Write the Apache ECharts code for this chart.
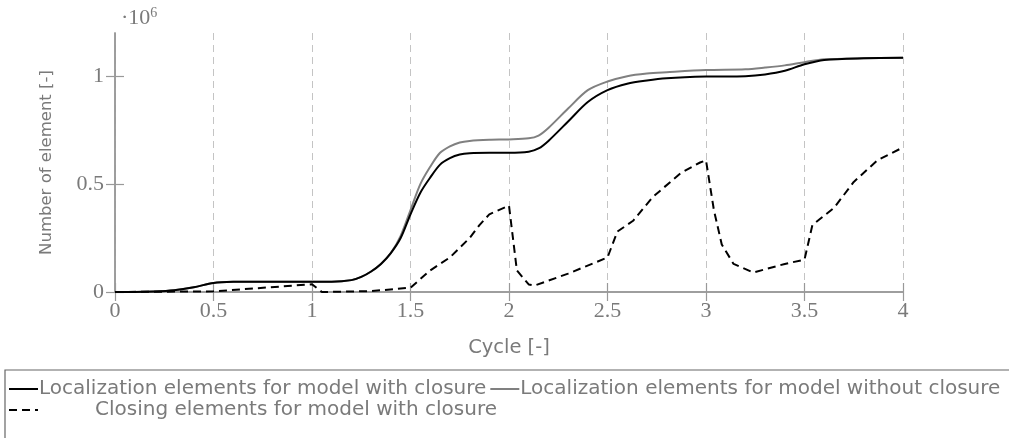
<!DOCTYPE html>
<html>
<head>
<meta charset="utf-8">
<script src="https://cdn.jsdelivr.net/npm/echarts@6/dist/echarts.min.js"></script>
<style>
  html, body { margin: 0; padding: 0; background: #fff; }
  #chart { width: 1009px; height: 438px; }
</style>
</head>
<body>
<div id="chart"></div>
<script>
// cycles for the two localization curves
const xSolid = [0, 0.1, 0.2, 0.3, 0.4, 0.5, 0.6, 0.8, 1.0, 1.1, 1.2, 1.25, 1.3, 1.35, 1.4, 1.45, 1.5, 1.55, 1.6, 1.65, 1.7, 1.75, 1.8, 1.9, 2.0, 2.1, 2.15, 2.2, 2.3, 2.4, 2.5, 2.6, 2.7, 2.8, 3.0, 3.2, 3.3, 3.4, 3.5, 3.6, 3.8, 4.0];
// number of elements, in millions
const withClosure = [0, 0, 0.002, 0.008, 0.022, 0.042, 0.047, 0.048, 0.048, 0.048, 0.055, 0.07, 0.095, 0.13, 0.18, 0.25, 0.36, 0.46, 0.53, 0.59, 0.62, 0.637, 0.643, 0.645, 0.645, 0.65, 0.665, 0.7, 0.79, 0.88, 0.935, 0.965, 0.98, 0.99, 0.998, 1.0, 1.008, 1.025, 1.055, 1.075, 1.083, 1.085];
const withoutClosure = [0, 0, 0.002, 0.008, 0.022, 0.042, 0.047, 0.048, 0.048, 0.048, 0.055, 0.07, 0.095, 0.13, 0.18, 0.26, 0.38, 0.5, 0.58, 0.645, 0.675, 0.693, 0.7, 0.705, 0.707, 0.712, 0.725, 0.76, 0.85, 0.935, 0.975, 1.0, 1.012, 1.018, 1.028, 1.032, 1.04, 1.05, 1.065, 1.078, 1.083, 1.085];

// closing elements curve
const xDash = [0, 0.5, 1.0, 1.05, 1.3, 1.5, 1.6, 1.7, 1.8, 1.85, 1.9, 2.0, 2.04, 2.1, 2.13, 2.3, 2.5, 2.55, 2.63, 2.73, 2.87, 2.97, 3.0, 3.04, 3.08, 3.14, 3.24, 3.4, 3.5, 3.54, 3.65, 3.75, 3.87, 4.0];
const closing = [0, 0.003, 0.036, 0, 0.004, 0.02, 0.1, 0.16, 0.25, 0.31, 0.36, 0.4, 0.1, 0.035, 0.03, 0.085, 0.16, 0.28, 0.33, 0.44, 0.55, 0.6, 0.61, 0.38, 0.22, 0.13, 0.09, 0.13, 0.15, 0.31, 0.39, 0.51, 0.61, 0.67];

const xTicks = [0, 0.5, 1, 1.5, 2, 2.5, 3, 3.5, 4];
const yTicks = [0, 0.5, 1];

const names = [
  'Localization elements for model with closure',
  'Localization elements for model without closure',
  'Closing elements for model with closure'
];

const toPairs = (xs, ys) => xs.map((x, i) => [x, ys[i] * 1e6]);

const grey = '#7a7a7a';
const serif = '"Liberation Serif", "DejaVu Serif", serif';
const sans = '"DejaVu Sans", sans-serif';

const chart = echarts.init(document.getElementById('chart'));

const yTickValues = yTicks.map(v => v * 1e6);

const frameLine = { show: true, lineStyle: { color: '#999', width: 1.5 } };
const frameTick = { show: true, inside: true, length: 9, lineStyle: { color: '#999', width: 1.2 } };

const option = {
  animation: false,
  grid: { left: 115, right: 106, top: 33, bottom: 146 },
  graphic: [
    {
      type: 'rect',
      shape: { x: 5, y: 370, width: 1100, height: 200 },
      style: { fill: 'none', stroke: '#666', lineWidth: 1.2 },
      silent: true
    },
    {
      type: 'text',
      left: 121,
      top: 6,
      style: {
        text: '·10{s|6}',
        font: '22px ' + serif,
        fill: grey,
        rich: { s: { fontSize: 14, fontFamily: serif, fill: grey, verticalAlign: 'top', padding: [0, 0, 10, 0] } }
      }
    }
  ],
  legend: [
    {
      data: [names[0], names[1]],
      left: 8,
      top: 379,
      padding: 0,
      itemGap: 3,
      itemWidth: 29,
      itemHeight: 14,
      itemStyle: { opacity: 0 },
      textStyle: { color: grey, fontSize: 20, fontFamily: sans, padding: [0, 0, 0, -4] }
    },
    {
      data: [names[2]],
      left: 8,
      top: 400,
      padding: 0,
      itemWidth: 29,
      itemHeight: 14,
      itemStyle: { opacity: 0 },
      formatter: (n) => '{t|' + n + '}',
      textStyle: { color: grey, fontSize: 20, fontFamily: sans, rich: { t: { color: grey, fontSize: 20, fontFamily: sans, padding: [0, 0, 0, 52] } } }
    }
  ],
  xAxis: [
    {
      type: 'value',
      min: 0,
      max: 4,
      interval: 0.5,
      name: 'Cycle [-]',
      nameLocation: 'middle',
      nameGap: 46,
      nameTextStyle: { color: grey, fontSize: 19.5, fontFamily: sans },
      axisLine: frameLine,
      axisTick: frameTick,
      axisLabel: {
        color: grey, fontSize: 22, fontFamily: serif, margin: 8,
        formatter: (v) => xTicks.includes(v) ? String(v) : ''
      },
      splitLine: { show: true, lineStyle: { color: '#c4c4c4', type: [7, 5], width: 1 } }
    },
    {
      type: 'value',
      position: 'top',
      min: 0,
      max: 4,
      interval: 0.5,
      axisLine: frameLine,
      axisTick: frameTick,
      axisLabel: { show: false },
      splitLine: { show: false }
    }
  ],
  yAxis: [
    {
      type: 'value',
      min: 0,
      max: 1.2e6,
      interval: 0.5e6,
      name: 'Number of element [-]',
      nameLocation: 'middle',
      nameGap: 60,
      nameTextStyle: { color: grey, fontSize: 16.5, fontFamily: sans },
      axisLine: frameLine,
      axisTick: Object.assign({ customValues: yTickValues }, frameTick),
      axisLabel: {
        color: grey, fontSize: 22, fontFamily: serif, margin: 11,
        customValues: yTickValues,
        formatter: (v) => String(v / 1e6)
      },
      splitLine: { show: false }
    },
    {
      type: 'value',
      position: 'right',
      min: 0,
      max: 1.2e6,
      interval: 0.5e6,
      axisLine: frameLine,
      axisTick: Object.assign({ customValues: yTickValues }, frameTick),
      axisLabel: { show: false },
      splitLine: { show: false }
    }
  ],
  series: [
    {
      name: names[0],
      type: 'line',
      data: toPairs(xSolid, withClosure),
      symbol: 'none',
      smooth: 0.3,
      z: 4,
      lineStyle: { color: '#000', width: 2 },
      itemStyle: { color: '#000' }
    },
    {
      name: names[1],
      type: 'line',
      data: toPairs(xSolid, withoutClosure),
      symbol: 'none',
      smooth: 0.3,
      z: 3,
      lineStyle: { color: '#808080', width: 2 },
      itemStyle: { color: '#808080' }
    },
    {
      name: names[2],
      type: 'line',
      data: toPairs(xDash, closing),
      symbol: 'none',
      z: 5,
      lineStyle: { color: '#000', width: 2, type: [8, 5] },
      itemStyle: { color: '#000' }
    }
  ]
};

chart.setOption(option);
</script>
</body>
</html>
